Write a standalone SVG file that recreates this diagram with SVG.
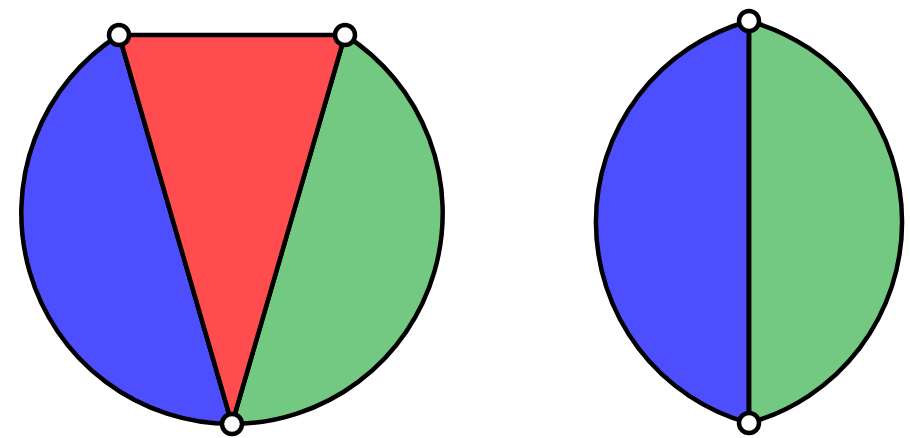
<svg xmlns="http://www.w3.org/2000/svg" width="910" height="438" viewBox="0 0 910 438">
<style>
.edge{stroke:#000;stroke-width:4.5;stroke-linejoin:round;stroke-linecap:round}
.blue{fill:#4d4fff}
.red{fill:#ff4d4f}
.green{fill:#73c982}
.dot{fill:#fff;stroke:#000;stroke-width:4.5}
</style>
<g id="left-shape">
<path class="edge blue" d="M119,35 A211,211 0 0 0 232,424 Z"/>
<path class="edge green" d="M345,35 A211,211 0 0 1 232,424 Z"/>
<path class="edge red" d="M119,35 L345,35 L232,424 Z"/>
</g>
<g id="right-shape">
<path class="edge blue" d="M749,21 A208.5,208.5 0 0 0 749,423 Z"/>
<path class="edge green" d="M749,21 A208.5,208.5 0 0 1 749,423 Z"/>
</g>
<g id="connectors">
<line class="edge" x1="749" y1="21" x2="749" y2="423"/>
</g>
<g id="v1"><circle class="dot" cx="119" cy="35" r="10"/></g>
<g id="v2"><circle class="dot" cx="345" cy="35" r="10"/></g>
<g id="v3"><circle class="dot" cx="232" cy="424" r="10"/></g>
<g id="v4"><circle class="dot" cx="749" cy="21" r="10"/></g>
<g id="v5"><circle class="dot" cx="749" cy="423" r="10"/></g>
</svg>
